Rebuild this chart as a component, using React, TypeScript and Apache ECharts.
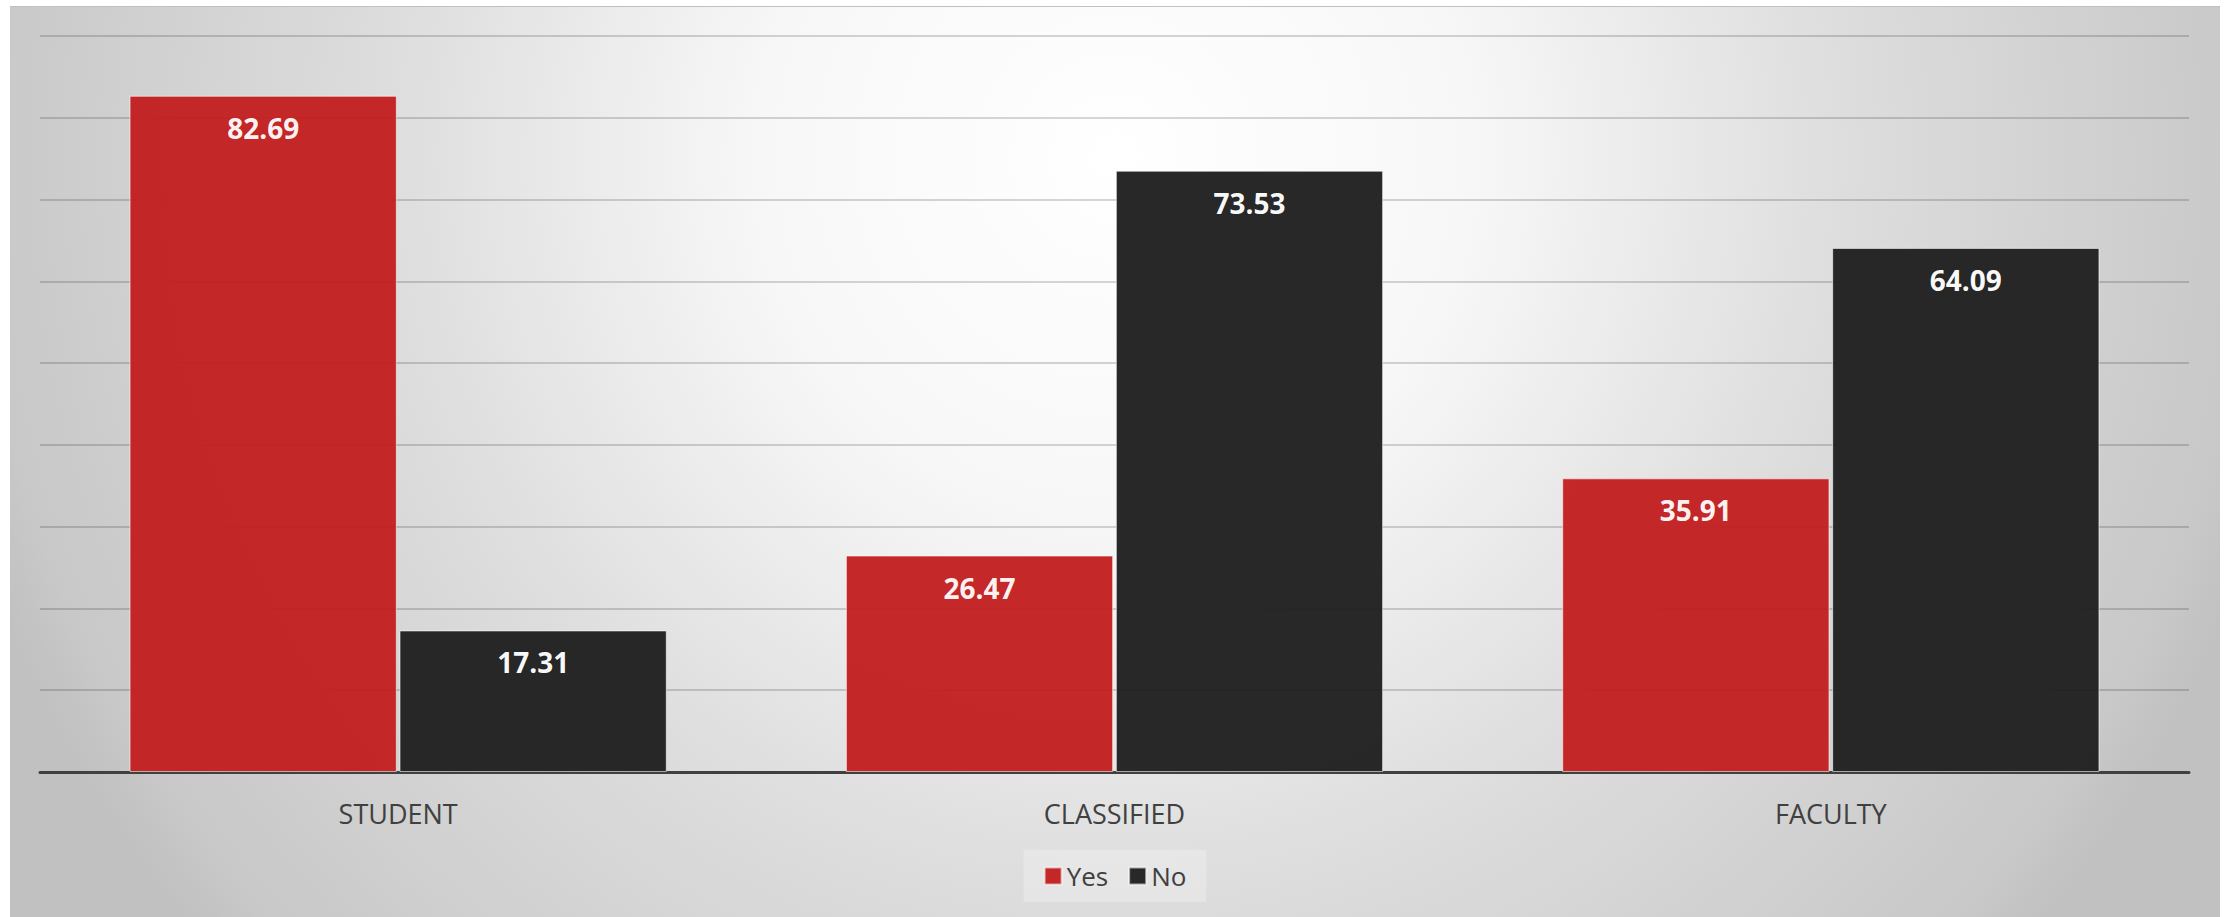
import React, { useEffect, useRef } from "react";
import * as echarts from "echarts";

const categories = ["STUDENT", "CLASSIFIED", "FACULTY"];
const yesValues = [82.69, 26.47, 35.91];
const noValues = [17.31, 73.53, 64.09];
const seriesNames = ["Yes", "No"];

export default function App() {
  const ref = useRef<HTMLDivElement>(null);
  useEffect(() => {
    if (!ref.current) return;
    const chart = echarts.init(ref.current, undefined, { renderer: "svg" });
    const labelStyle = {
      show: true,
      position: "insideTop",
      distance: 18,
      color: "#ffffff",
      fontFamily: "Open Sans",
      fontWeight: "bold",
      fontSize: 28,
    };
    chart.setOption({
      animation: false,
      backgroundColor: {
        type: "radial",
        x: 1105,
        y: 150,
        r: 1200,
        global: true,
        colorStops: [
          { offset: 0, color: "#ffffff" },
          { offset: 0.3, color: "#f7f7f7" },
          { offset: 0.61, color: "#dddddd" },
          { offset: 0.95, color: "#c8c8c8" },
          { offset: 1, color: "#c1c1c1" },
        ],
      },
      textStyle: { fontFamily: "Open Sans" },
      grid: { left: 30, right: 31, top: 29, bottom: 145, containLabel: false },
      legend: {
        data: seriesNames,
        left: "center",
        top: 843,
        backgroundColor: "rgba(255,255,255,0.25)",
        padding: [13, 20, 13, 20],
        itemWidth: 17,
        itemHeight: 17,
        itemGap: 20,
        icon: "rect",
        textStyle: { fontSize: 26, color: "#404040", fontFamily: "Open Sans" },
      },
      xAxis: {
        type: "category",
        data: categories,
        axisLine: { show: true, lineStyle: { color: "#404040", width: 3 } },
        axisTick: { show: false },
        axisLabel: { fontSize: 27, color: "#404040", margin: 28, fontFamily: "Open Sans" },
      },
      yAxis: {
        type: "value",
        min: 0,
        max: 90,
        interval: 10,
        axisLabel: { show: false },
        axisLine: { show: false },
        axisTick: { show: false },
        splitLine: { show: true, lineStyle: { color: "rgba(0,0,0,0.16)", width: 2 } },
      },
      series: [
        {
          name: seriesNames[0],
          type: "bar",
          data: yesValues,
          barGap: "1%",
          barCategoryGap: "25%",
          itemStyle: { color: "#c21f1f", opacity: 0.96, borderColor: "rgba(255,255,255,0.6)", borderWidth: 1 },
          label: labelStyle,
        },
        {
          name: seriesNames[1],
          type: "bar",
          data: noValues,
          itemStyle: { color: "#212121", opacity: 0.97, borderColor: "rgba(255,255,255,0.6)", borderWidth: 1 },
          label: labelStyle,
        },
      ],
    });
    return () => chart.dispose();
  }, []);
  return (
    <div
      ref={ref}
      style={{
        position: "absolute",
        left: 10,
        top: 6,
        width: 2210,
        height: 911,
        borderTop: "1px solid #c0c0c0",
        boxSizing: "border-box",
      }}
    />
  );
}
